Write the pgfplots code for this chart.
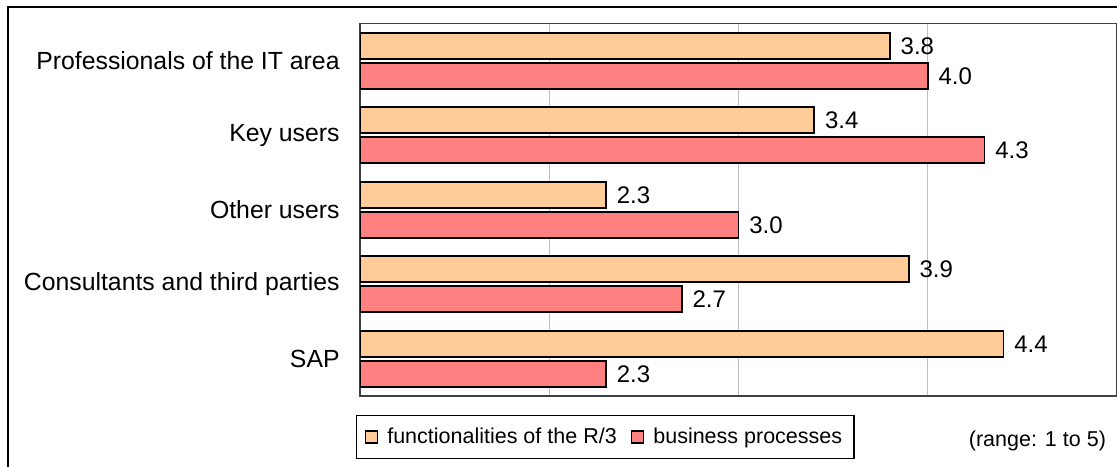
\documentclass[border=0pt]{standalone}
\usepackage{pgfplots}
\pgfplotsset{compat=1.18}
\usepackage{fontspec}
\setmainfont{Liberation Sans}
\definecolor{barorange}{HTML}{FFCC99}
\definecolor{barred}{HTML}{FF8080}

\begin{document}
\begin{tikzpicture}
\path[use as bounding box] (0,0) rectangle (558.5pt,-233pt);
% outer frame, only left and top edges fall inside the picture
\draw[black, line width=1pt] (4pt,-240pt) -- (4pt,-3.5pt) -- (565pt,-3.5pt);
\begin{axis}[
  at={(180pt,-198pt)}, anchor=south west,
  scale only axis, width=378.5pt, height=186.25pt,
  xbar, bar width=13pt,
  xmin=1, xmax=5, ymin=-0.5, ymax=4.5,
  xtick={2,3,4}, xticklabels={}, xmajorgrids,
  grid style={color=black!25, line width=0.6pt},
  ytick={0,1,2,3,4},
  yticklabels={SAP, Consultants and third parties, Other users, Key users, Professionals of the IT area},
  major tick length=0pt,
  yticklabel style={font=\fontsize{12.4}{14}\selectfont, inner sep=0pt, xshift=-10pt},
  axis line style={black!75, line width=0.8pt},
  nodes near coords,
  nodes near coords style={font=\fontsize{12}{14}\selectfont, anchor=west, inner sep=1pt, xshift=4pt},
  /pgf/number format/fixed,
  /pgf/number format/fixed zerofill,
  /pgf/number format/precision=1,
  /pgf/number format/assume math mode=true,
  legend columns=2,
  legend style={at={(-0.0053,-0.051)}, anchor=north west, draw=black, line width=0.7pt,
    font=\fontsize{10.75}{13}\selectfont, inner xsep=4pt, inner ysep=4pt,
    /tikz/every odd column/.append style={column sep=2.5pt},
    /tikz/every even column/.append style={column sep=5pt}},
  legend image code/.code={\draw[#1] (0pt,-3pt) rectangle (6pt,3pt);},
]
% functionalities of the R/3
\addplot[fill=barorange, draw=black, line width=0.8pt, bar shift=7.5pt] coordinates {
  (4.4,0) (3.9,1) (2.3,2) (3.4,3) (3.8,4)
};
% business processes
\addplot[fill=barred, draw=black, line width=0.8pt, bar shift=-7.5pt] coordinates {
  (2.3,0) (2.7,1) (3.0,2) (4.3,3) (4.0,4)
};
\legend{functionalities of the R/3, business processes}
\end{axis}
\node[anchor=east, font=\fontsize{10.75}{13}\selectfont] at (556.5pt,-220.5pt) {(range: 1 to 5)};
\end{tikzpicture}
\end{document}
